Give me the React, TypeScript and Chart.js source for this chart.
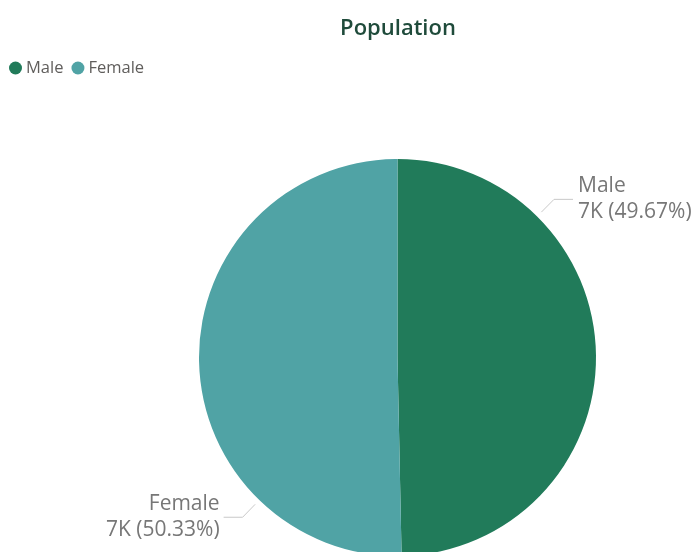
import React, { useEffect, useRef } from "react";
import { Chart, registerables } from "chart.js";

Chart.register(...registerables);

const categories = ["Male", "Female"];
const counts = [6954, 7046];
const countLabels = ["7K", "7K"];
const colors = ["#217B5A", "#50A3A5"];
const titleText = "Population";

const FONT = "'Open Sans', 'Noto Sans', sans-serif";

const overlayPlugin = {
  id: "overlay",
  afterDraw(chart: any) {
    const ctx = chart.ctx as CanvasRenderingContext2D;
    ctx.save();
    // Title
    ctx.fillStyle = "#1F4B3B";
    ctx.font = `600 22px ${FONT}`;
    ctx.textAlign = "center";
    ctx.textBaseline = "middle";
    ctx.fillText(titleText, 398, 28.5);

    // Legend
    ctx.font = `16.5px ${FONT}`;
    ctx.textAlign = "left";
    let x = 9;
    categories.forEach((c, i) => {
      ctx.fillStyle = colors[i];
      ctx.beginPath();
      ctx.arc(x + 6.5, 68, 6.5, 0, Math.PI * 2);
      ctx.fill();
      ctx.fillStyle = "#605E5C";
      ctx.fillText(c, x + 17, 68);
      x += 17 + ctx.measureText(c).width + 8;
    });

    // Data labels
    const meta = chart.getDatasetMeta(0);
    const total = counts.reduce((a, b) => a + b, 0);
    ctx.font = `21px ${FONT}`;
    meta.data.forEach((arc: any, i: number) => {
      const p = arc.getProps(["x", "y", "startAngle", "endAngle", "outerRadius"], true);
      const ang = p.startAngle + (p.endAngle - p.startAngle) / 4;
      const cos = Math.cos(ang);
      const sin = Math.sin(ang);
      const x1 = p.x + cos * (p.outerRadius + 6);
      const y1 = p.y + sin * (p.outerRadius + 6);
      const x2 = p.x + cos * (p.outerRadius + 24);
      const y2 = p.y + sin * (p.outerRadius + 24);
      const right = cos >= 0;
      const x3 = x2 + (right ? 19 : -19);
      ctx.strokeStyle = "#C8C8C8";
      ctx.lineWidth = 1;
      ctx.beginPath();
      ctx.moveTo(x1, y1);
      ctx.lineTo(x2, y2);
      ctx.lineTo(x3, y2);
      ctx.stroke();
      const pct = ((counts[i] / total) * 100).toFixed(2);
      ctx.fillStyle = "#777777";
      ctx.textAlign = right ? "left" : "right";
      const tx = x3 + (right ? 5 : -4);
      ctx.fillText(categories[i], tx, y2 - 13);
      ctx.fillText(`${countLabels[i]} (${pct}%)`, tx, y2 + 13);
    });
    ctx.restore();
  },
};

export default function App() {
  const ref = useRef<HTMLCanvasElement | null>(null);
  useEffect(() => {
    if (!ref.current) return;
    const chart = new Chart(ref.current, {
      type: "pie",
      data: {
        labels: categories,
        datasets: [
          {
            data: counts,
            backgroundColor: colors,
            borderWidth: 0,
          },
        ],
      },
      options: {
        animation: false,
        responsive: false,
        devicePixelRatio: 1,
        layout: { padding: { top: 159, bottom: 4, left: 99, right: 0 } },
        plugins: {
          legend: { display: false },
          title: { display: false },
          tooltip: { enabled: false },
        },
      },
      plugins: [overlayPlugin],
    });
    return () => chart.destroy();
  }, []);
  return (
    <div
      style={{
        position: "fixed",
        left: 0,
        top: 0,
        width: 696,
        height: 552,
        overflow: "hidden",
        background: "#fff",
      }}
    >
      <canvas ref={ref} width={696} height={560} style={{ display: "block" }} />
    </div>
  );
}
